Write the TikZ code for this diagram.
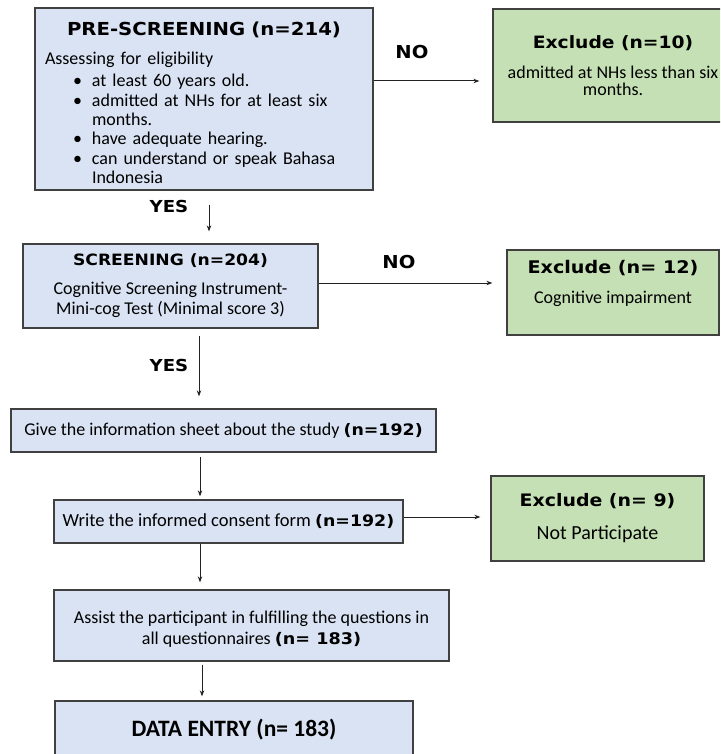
\documentclass[tikz,border=0pt]{standalone}
\usepackage{fontspec}
\setmainfont{Carlito}
\newfontfamily\vbold{DejaVu Sans Bold}[FakeStretch=1.1]
\usetikzlibrary{arrows.meta}
\definecolor{bluefill}{HTML}{DAE3F3}
\definecolor{greenfill}{HTML}{C5E0B4}
\definecolor{edgegray}{HTML}{404040}
\definecolor{arrgray}{HTML}{222222}
\newcommand\bitem[1]{{\hangindent=47pt\hangafter=0\noindent\llap{\textbullet\hspace{10pt}}#1\par}}
\newcommand\vb[1]{\vbold\fontsize{#1}{20}\selectfont}
\newcommand\cb[2]{\fontsize{#1}{#2}\selectfont}
\begin{document}
\begin{tikzpicture}[x=1pt,y=-1pt,
  boxbase/.style={draw=edgegray, line width=1.3pt, inner sep=0pt, align=center, text=black},
  bluebox/.style={boxbase, fill=bluefill},
  greenbox/.style={boxbase, fill=greenfill},
  arr/.style={draw=arrgray, line width=1pt, -{Stealth[length=6pt,width=4.5pt]}},
  lbl/.style={font=\vb{16.5}, inner sep=0pt}
]
\useasboundingbox (0,0) rectangle (720,754);
\begin{scope}
\clip (0,0) rectangle (720,754);
% boxes
\node[bluebox, minimum width=338pt, minimum height=182pt, text width=318pt, align=left,
      font=\cb{18}{19.4}] (pre) at (204,99)
 {{\centering\vb{17.9}PRE-SCREENING (n=214)\par}
  \vspace{9.6pt}
  \raggedright
  \noindent Assessing for eligibility\par
  \vspace{2.6pt}
  \bitem{at least 60 years old.}
  \bitem{admitted at NHs for at least six months.}
  \bitem{have adequate hearing.}
  \bitem{can understand or speak Bahasa Indonesia}
  \vspace{-8pt}};
\node[greenbox, minimum width=240pt, minimum height=113pt, font=\cb{18}{17}] (ex10) at (613,65.5)
 {{\vb{17}Exclude (n=10)}\\[13pt]
  admitted at NHs less than six\\ months.};
\node[bluebox, minimum width=295pt, minimum height=84pt, font=\cb{18}{20}] (scr) at (170.5,286)
 {{\vb{15.6}SCREENING (n=204)}\\[9pt]
  Cognitive Screening Instrument-\\ Mini-cog Test (Minimal score 3)};
\node[greenbox, minimum width=212pt, minimum height=85pt, font=\cb{18}{19}] (ex12) at (613,292.5)
 {{\vb{17.4}Exclude (n= 12)}\\[11pt]
  Cognitive impairment\\[-4pt] \strut};
\node[bluebox, minimum width=425pt, minimum height=43pt, font=\cb{18}{20}] (info) at (223.5,430.5)
 {Give the information sheet about the study {\vb{15.8}(n=192)}};
\node[bluebox, minimum width=349pt, minimum height=43pt, font=\cb{18.5}{20}] (cons) at (228.5,521.5)
 {Write the informed consent form {\vb{15.8}(n=192)}};
\node[greenbox, minimum width=213pt, minimum height=85pt, font=\cb{20}{20}] (ex9) at (597.5,518.5)
 {{\vb{17.2}Exclude (n= 9)}\\[13pt]
  Not Participate};
\node[bluebox, minimum width=395pt, minimum height=71pt, font=\cb{18}{21}] (asst) at (251.5,625.5)
 {\strut\\[-15pt]Assist the participant in fulfilling the questions in\\
  all questionnaires {\vb{16}(n= 183)}};
\node[bluebox, minimum width=358pt, minimum height=58pt, font=\bfseries\cb{23.5}{24}] (data) at (234,730)
 {DATA ENTRY (n= 183)};
% labels
\node[lbl, font=\vb{17.8}] (no1) at (412,52) {NO};
\node[lbl] (yes1) at (169,206) {YES};
\node[lbl, font=\vb{17.8}] (no2) at (399,262) {NO};
\node[lbl] (yes2) at (169,365) {YES};
% connectors
\coordinate (c1) at (0,81);
\draw[arr, shorten >=13pt] (c1 -| pre.east) -- (c1 -| ex10.west);
\coordinate (c2) at (209,0);
\draw[arr, line width=0.7pt, shorten <=14pt, shorten >=12pt] (c2 |- pre.south) -- (c2 |- scr.north);
\coordinate (c3) at (0,283);
\draw[arr, shorten >=14pt] (c3 -| scr.east) -- (c3 -| ex12.west);
\coordinate (c4) at (199,0);
\draw[arr, shorten <=7pt, shorten >=12pt] (c4 |- scr.south) -- (c4 |- info.north);
\coordinate (c5) at (200,0);
\draw[arr, shorten <=4pt, shorten >=3pt] (c5 |- info.south) -- (c5 |- cons.north);
\coordinate (c6) at (0,517);
\draw[arr, shorten >=10pt] (c6 -| cons.east) -- (c6 -| ex9.west);
\draw[arr, shorten >=7pt] (c5 |- cons.south) -- (c5 |- asst.north);
\coordinate (c7) at (202,0);
\draw[arr, shorten <=3pt, shorten >=4pt] (c7 |- asst.south) -- (c7 |- data.north);
\end{scope}
\end{tikzpicture}
\end{document}
